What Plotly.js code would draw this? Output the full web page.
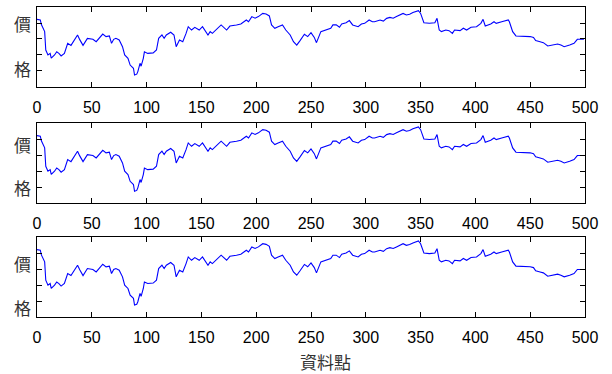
<!DOCTYPE html>
<html>
<head>
<meta charset="utf-8">
<script src="https://cdn.plot.ly/plotly-3.0.1.min.js"></script>
<style>html,body{margin:0;padding:0;background:#fff;}#chart{width:612px;height:374px;}</style>
</head>
<body>
<div id="chart"></div>
<script>
// Data point index (x) and price level (relative units)
const idx = [0,3,4,7,8,9,10,12,13,16,18,20,22,25,28,31,33,37,39,42,46,51,54,57,60,63,66,68,70,72,75,78,80,83,85,88,89,91,92,94,95,97,98,101,106,109,111,114,116,118,122,125,127,130,133,136,138,141,144,148,151,156,158,160,165,168,173,176,182,186,191,193,196,199,202,206,209,212,214,217,220,224,227,231,234,237,240,244,247,250,253,255,259,264,268,270,273,276,278,282,285,288,293,296,299,303,306,308,313,316,319,322,325,328,331,334,337,340,343,345,348,350,353,358,363,365,367,369,373,376,379,381,386,389,392,396,401,405,407,409,414,417,419,424,430,431,434,437,440,446,450,453,455,459,462,466,471,475,478,481,486,490,493,499];
const price = [4.23,4.19,3.9,3.46,2.31,2.2,2.0,2.1,1.8,2.0,2.2,2.1,1.94,2.1,2.73,2.6,2.83,3.25,2.96,2.6,3.04,2.98,2.83,3.04,3.31,3.15,3.19,2.73,2.98,3.04,2.94,2.52,2.0,1.79,1.37,1.17,0.75,0.8,0.96,1.48,1.3,1.79,2.2,2.1,2.13,2.31,3.04,3.25,3.04,3.25,3.42,3.25,2.52,2.94,2.83,3.35,3.77,3.56,3.73,3.56,3.77,3.25,3.46,3.35,3.67,3.88,3.56,3.81,3.88,3.94,4.19,4.08,4.4,4.3,4.4,4.6,4.56,4.44,3.88,3.67,3.77,3.88,3.56,3.25,2.83,2.62,2.9,3.3,3.15,3.4,3.1,2.77,3.46,3.6,3.67,3.88,3.88,3.73,3.94,4.02,4.15,3.88,3.77,3.94,3.98,4.19,4.08,4.08,4.19,4.12,4.29,4.35,4.3,4.4,4.5,4.6,4.5,4.55,4.65,4.7,4.77,4.6,4.02,3.98,4.02,4.29,3.56,3.46,3.56,3.52,3.35,3.56,3.52,3.67,3.56,3.73,3.77,3.98,4.23,3.81,3.94,4.08,3.98,4.08,4.19,4.08,3.46,3.19,3.19,3.19,3.15,3.1,2.9,2.83,2.77,2.56,2.62,2.69,2.62,2.52,2.62,2.73,2.98,2.98];
const xTicks = [0,50,100,150,200,250,300,350,400,450,500];
const yTicks = [1,2,3,4];
const yLabelTop = '價';
const yLabelBottom = '格';
const xLabel = '資料點';

const traces = [];
['x','x2','x3'].forEach((xa,i)=>{
  traces.push({x: idx, y: price, type:'scatter', mode:'lines',
    line:{color:'#0000ff', width:1.1}, xaxis: xa, yaxis: ['y','y2','y3'][i], hoverinfo:'skip'});
});

function xax(anchor){
  return {anchor: anchor, range:[0,500], tickvals: xTicks, ticks:'inside', ticklen:5,
    tickcolor:'#000', showline:true, linecolor:'#000', linewidth:1, mirror:'ticks',
    ticklabelstandoff:6,
    showgrid:false, zeroline:false, tickfont:{family:'Liberation Sans, Arial', size:16, color:'#000'}};
}
function yax(anchor, dom){
  return {anchor: anchor, domain: dom, range:[0,5], tickvals: yTicks, ticks:'inside', ticklen:5,
    tickcolor:'#000', showticklabels:false, showline:true, linecolor:'#000', linewidth:1,
    mirror:'ticks', showgrid:false, zeroline:false};
}
const cjk = {family:'Noto Sans CJK TC', size:17, color:'#333'};
const px = -0.0265;
const ann = [
  [0.948, yLabelTop],[0.803, yLabelBottom],
  [0.558, yLabelTop],[0.418, yLabelBottom],
  [0.171, yLabelTop],[0.031, yLabelBottom]
].map(a=>({xref:'paper', yref:'paper', x:px, y:a[0], text:a[1], showarrow:false,
  font:cjk, xanchor:'center', yanchor:'middle'}));
ann.push({xref:'paper', yref:'paper', x:0.527, y:-0.1435, text:xLabel, showarrow:false,
  font:cjk, xanchor:'center', yanchor:'middle'});

const layout = {
  width:612, height:374, margin:{l:37, r:27, t:7, b:57},
  paper_bgcolor:'#fff', plot_bgcolor:'#fff', showlegend:false,
  xaxis: xax('y'), yaxis: yax('x',[0.742,1.0]),
  xaxis2: xax('y2'), yaxis2: yax('x2',[0.367,0.625]),
  xaxis3: xax('y3'), yaxis3: yax('x3',[0,0.257]),
  annotations: ann
};
Plotly.newPlot('chart', traces, layout, {staticPlot:true, displayModeBar:false});
</script>
</body>
</html>
